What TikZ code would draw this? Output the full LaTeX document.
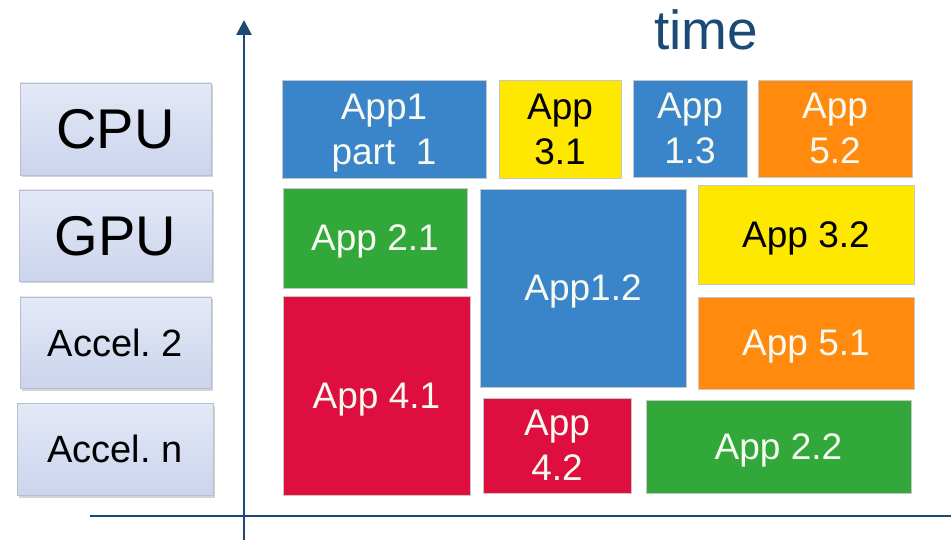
\documentclass[tikz,border=0pt]{standalone}
\usepackage{fontspec}
\setmainfont{Liberation Sans}
\usetikzlibrary{arrows.meta,shadows}
\definecolor{axisblue}{RGB}{28,74,118}
\definecolor{appblue}{RGB}{58,132,202}
\definecolor{appyellow}{RGB}{255,232,0}
\definecolor{apporange}{RGB}{255,138,14}
\definecolor{appgreen}{RGB}{50,168,58}
\definecolor{appred}{RGB}{222,14,62}
\definecolor{lavtop}{RGB}{228,233,247}
\definecolor{lavbot}{RGB}{203,212,237}
\definecolor{lavedge}{RGB}{185,190,205}
\definecolor{apptext}{RGB}{246,250,240}
\frenchspacing
\begin{document}
\begin{tikzpicture}[x=1pt,y=-1pt,
  resbox/.style={rectangle, anchor=north west, inner sep=0pt, outer sep=0pt,
    top color=lavtop, bottom color=lavbot, draw=lavedge, line width=0.8pt,
    drop shadow={opacity=0.35, shadow xshift=1.5pt, shadow yshift=-2.5pt},
    text=black, align=center, text depth=0pt},
  appbox/.style={rectangle, anchor=north west, inner sep=0pt, outer sep=0pt,
    draw=black!22, line width=0.9pt, text=apptext, align=center, text depth=0pt,
    font=\fontsize{37}{45}\selectfont},
  axisline/.style={draw=axisblue, line width=2.8pt},
  big/.style={font=\fontsize{56}{60}\selectfont},
  mid/.style={font=\fontsize{38}{44}\selectfont}]
\useasboundingbox (0,0) rectangle (951,540);
% resources
\node[resbox, big, minimum width=191pt, minimum height=92pt] (cpu) at (20,83) {CPU};
\node[resbox, big, minimum width=193pt, minimum height=91pt] (gpu) at (19,190) {GPU};
\node[resbox, mid, minimum width=191pt, minimum height=91pt] (acc2) at (20,297) {Accel. 2};
\node[resbox, mid, minimum width=196pt, minimum height=92pt] (accn) at (17,403) {Accel. n};
% axes
\coordinate (ybot) at (244,540);
\coordinate (ytop) at (244,20);
\coordinate (xl) at (90,516);
\coordinate (xr) at (951,516);
\draw[axisline] (xl) -- (xr);
\draw[axisline, -{Triangle[length=15pt,width=15pt]}] (ybot) -- (ytop);
\node[anchor=base, text=axisblue, font=\fontsize{55}{60}\selectfont] (time) at (706,50) {time};
% applications
\node[appbox, fill=appblue, minimum width=204pt, minimum height=98pt] (a11) at (282,80) {App1\\part\ \ 1};
\node[appbox, fill=appyellow, text=black, minimum width=122pt, minimum height=98pt] (a31) at (499,80) {App\\3.1};
\node[appbox, fill=appblue, minimum width=114pt, minimum height=97pt] (a13) at (633,80) {App\\1.3};
\node[appbox, fill=apporange, minimum width=154pt, minimum height=97pt] (a52) at (758,80) {App\\5.2};
\node[appbox, fill=appgreen, minimum width=184pt, minimum height=100pt] (a21) at (283,188) {App 2.1};
\node[appbox, fill=appblue, minimum width=206pt, minimum height=198pt] (a12) at (480,189) {App1.2};
\node[appbox, fill=appyellow, text=black, minimum width=216pt, minimum height=99pt] (a32) at (698,185) {App 3.2};
\node[appbox, fill=apporange, minimum width=216pt, minimum height=92pt] (a51) at (698,297) {App 5.1};
\node[appbox, fill=appred, minimum width=187pt, minimum height=199pt] (a41) at (283,296) {App 4.1};
\node[appbox, fill=appred, minimum width=148pt, minimum height=95pt] (a42) at (483,398) {App\\4.2};
\node[appbox, fill=appgreen, minimum width=265pt, minimum height=93pt] (a22) at (646,400) {App 2.2};
\end{tikzpicture}
\end{document}
